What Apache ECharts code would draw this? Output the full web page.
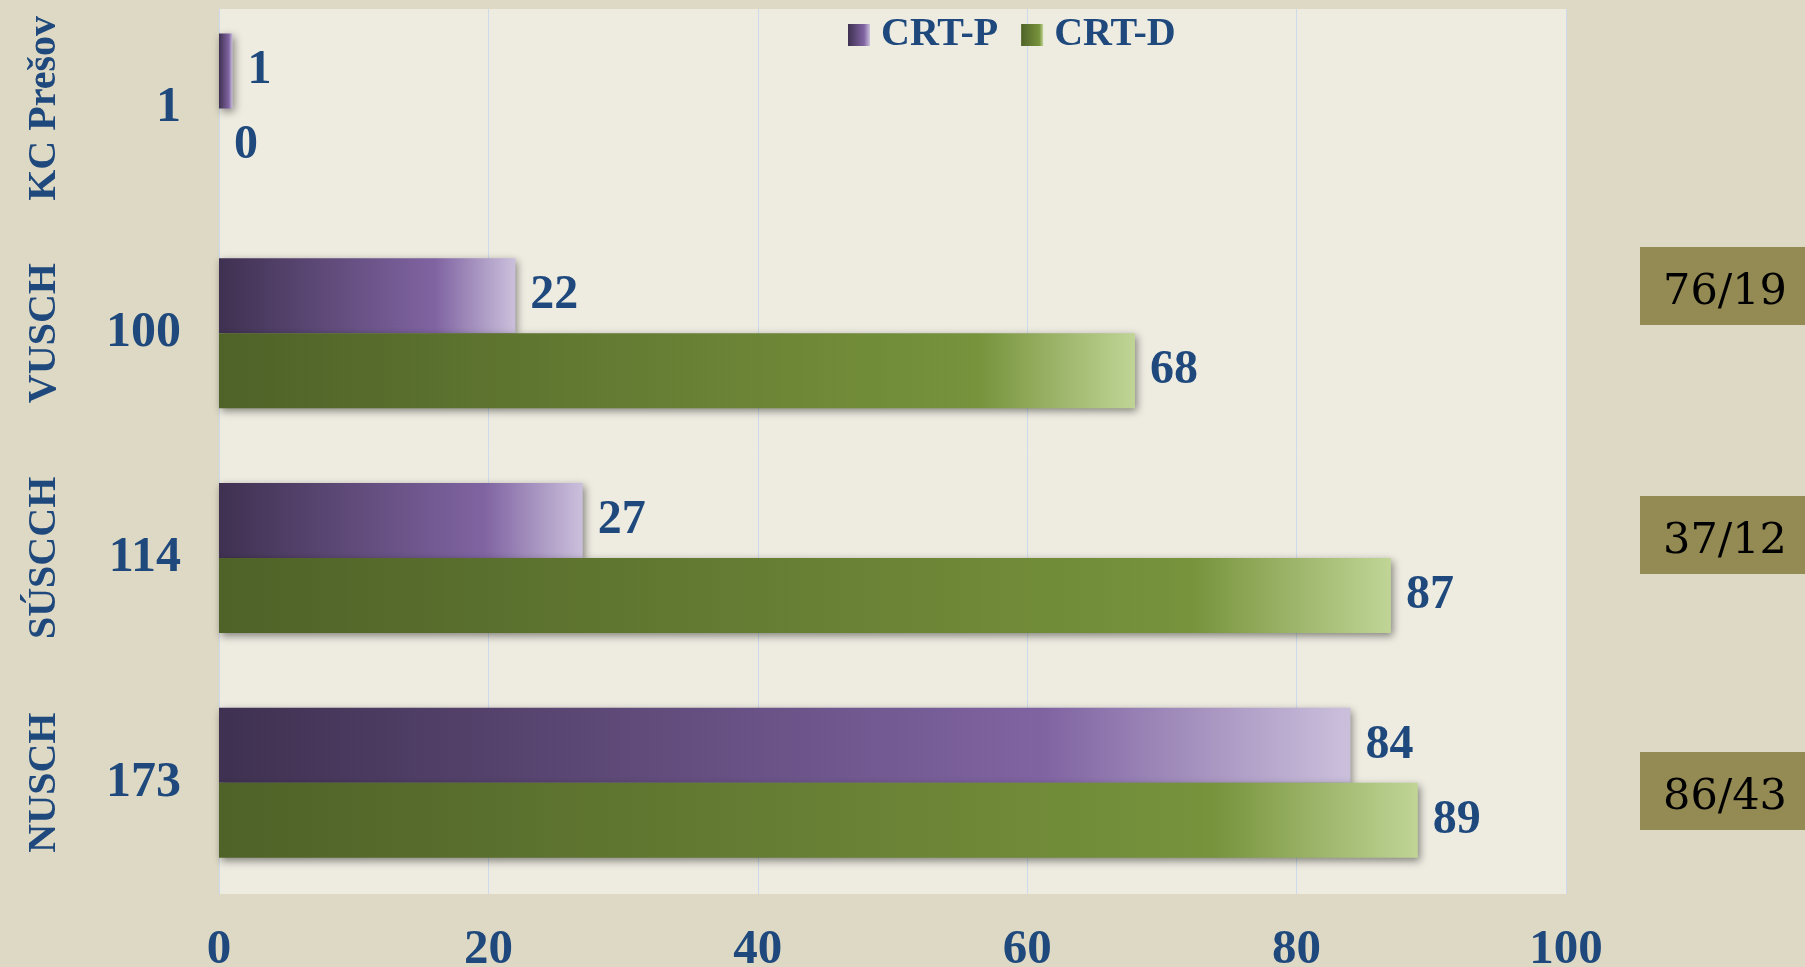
<!DOCTYPE html>
<html>
<head>
<meta charset="utf-8">
<script src="https://cdn.jsdelivr.net/npm/echarts@6/dist/echarts.min.js"></script>
<style>
html, body { margin: 0; padding: 0; background: #DDD9C4; }
#chart { width: 1805px; height: 967px; }
</style>
</head>
<body>
<div id="chart"></div>
<script>
// data
let categories = ['KC Prešov', 'VUSCH', 'SÚSCCH', 'NUSCH']
let totals = ['1', '100', '114', '173']
let crtP = [1, 22, 27, 84]
let crtD = [0, 68, 87, 89]
let xTicks = [0, 100, 20]   // min, max, interval
let sideNotes = ['76/19', '37/12', '86/43']

let blue = '#1F497D'
let serif = '"Liberation Serif", "Times New Roman", serif'

function grad (stops) {
  return new echarts.graphic.LinearGradient(0, 0, 1, 0, stops)
}

let purple = grad([
  { offset: 0, color: '#3F3151' },
  { offset: 0.73, color: '#8064A2' },
  { offset: 1, color: '#CBC0DC' }
])
let green = grad([
  { offset: 0, color: '#4F6228' },
  { offset: 0.83, color: '#77933C' },
  { offset: 1, color: '#C0D596' }
])

// note boxes on the right, positioned like the text boxes of the original
let noteY = [286, 535, 791]
let graphics = []
sideNotes.forEach(function (t, i) {
  graphics.push({
    type: 'rect',
    shape: { x: 1640, y: noteY[i] - 39, width: 170, height: 78 },
    style: { fill: '#948A54' },
    z: 10
  })
  graphics.push({
    type: 'text',
    x: 1725,
    y: noteY[i] + 7,
    style: {
      text: t,
      fill: '#000',
      font: '43px "DejaVu Serif"',
      align: 'center',
      verticalAlign: 'middle',
      textAlign: 'center',
      textVerticalAlign: 'middle'
    },
    z: 11
  })
})

let labelStyle = {
  show: true,
  position: 'right',
  distance: 15,
  color: blue,
  fontFamily: serif,
  fontWeight: 'bold',
  fontSize: 48
}
let shadow = {
  shadowColor: 'rgba(0,0,0,0.45)',
  shadowBlur: 8,
  shadowOffsetX: 2,
  shadowOffsetY: 3
}

let myChart = echarts.init(document.getElementById('chart'))
myChart.setOption({
  backgroundColor: '#DDD9C4',
  animation: false,
  graphic: graphics,
  legend: {
    data: ['CRT-P', 'CRT-D'],
    left: 843,
    top: 10,
    itemWidth: 22,
    itemHeight: 22,
    itemGap: 23,
    icon: 'rect',
    textStyle: {
      color: blue,
      fontFamily: serif,
      fontWeight: 'bold',
      fontSize: 40,
      padding: [0, 0, 0, 6]
    }
  },
  grid: [
    {
      left: 219, right: 239, top: 9, bottom: 73,
      outerBoundsMode: 'none',
      show: true, backgroundColor: '#EEECE1', borderWidth: 0
    },
    {
      left: 219, right: 239, top: -4, bottom: 72,
      outerBoundsMode: 'none'
    }
  ],
  xAxis: [
    {
      gridIndex: 0,
      type: 'value',
      min: xTicks[0],
      max: xTicks[1],
      interval: xTicks[2],
      axisLine: { show: false },
      axisTick: { show: false },
      splitLine: { lineStyle: { color: '#CCDAEC', width: 1 } },
      axisLabel: {
        margin: 32,
        color: blue,
        fontFamily: serif,
        fontWeight: 'bold',
        fontSize: 49
      }
    },
    {
      gridIndex: 1,
      type: 'value',
      min: xTicks[0],
      max: xTicks[1],
      show: false
    }
  ],
  yAxis: [
    {
      gridIndex: 0,
      type: 'value',
      show: false
    },
    {
      gridIndex: 1,
      type: 'category',
      position: 'left',
      inverse: true,
      data: categories,
      axisLine: { show: false },
      axisTick: { show: false },
      axisLabel: {
        interval: 0,
        rotate: 90,
        margin: 154,
        color: blue,
        fontFamily: serif,
        fontWeight: 'bold',
        fontSize: 40
      }
    },
    {
      gridIndex: 1,
      type: 'category',
      position: 'left',
      inverse: true,
      data: totals,
      axisLine: { show: false },
      axisTick: { show: false },
      axisLabel: {
        interval: 0,
        margin: 38,
        color: blue,
        fontFamily: serif,
        fontWeight: 'bold',
        fontSize: 50
      }
    }
  ],
  series: [
    {
      name: 'CRT-P',
      type: 'bar',
      xAxisIndex: 1,
      yAxisIndex: 1,
      data: crtP,
      barWidth: 75,
      barGap: '0%',
      itemStyle: Object.assign({ color: purple }, shadow),
      label: labelStyle
    },
    {
      name: 'CRT-D',
      type: 'bar',
      xAxisIndex: 1,
      yAxisIndex: 1,
      data: crtD,
      barWidth: 75,
      barGap: '0%',
      itemStyle: Object.assign({ color: green }, shadow),
      label: labelStyle
    }
  ]
})
</script>
</body>
</html>
